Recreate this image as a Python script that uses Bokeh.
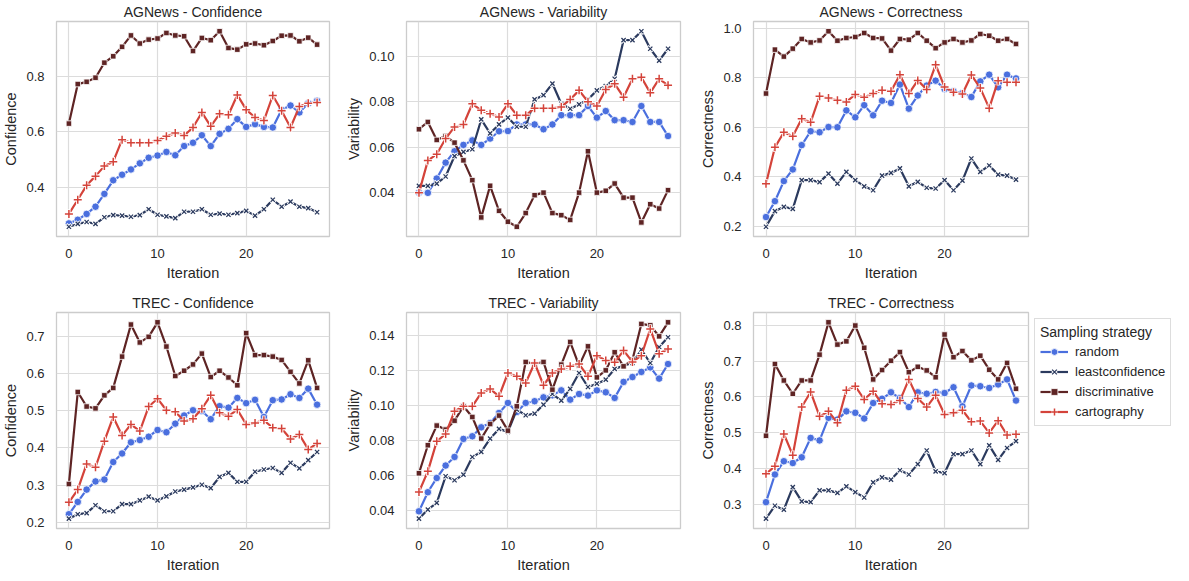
from bokeh.plotting import figure
from bokeh.layouts import column, row
from bokeh.models import Legend, LegendItem, FixedTicker, Range1d, PrintfTickFormatter
from bokeh.embed import file_html
from bokeh.resources import INLINE

iterations = list(range(29))
strategies = ["random", "leastconfidence", "discriminative", "cartography"]
colors = {"random": "#4a6fde", "leastconfidence": "#2b3a5e",
          "discriminative": "#5e2424", "cartography": "#d4433a"}

# AGNews - Confidence
ag_conf_random = [0.270, 0.283, 0.304, 0.330, 0.376, 0.425, 0.445, 0.464, 0.486, 0.506, 0.514, 0.527, 0.515, 0.548, 0.560,
                  0.587, 0.548, 0.592, 0.610, 0.645, 0.617, 0.627, 0.617, 0.615, 0.679, 0.694, 0.669, 0.702, 0.711]
ag_conf_least = [0.258, 0.268, 0.275, 0.268, 0.292, 0.300, 0.298, 0.294, 0.300, 0.321, 0.301, 0.295, 0.289, 0.312, 0.312,
                 0.321, 0.301, 0.305, 0.301, 0.307, 0.315, 0.298, 0.321, 0.355, 0.330, 0.348, 0.330, 0.325, 0.310]
ag_conf_disc = [0.629, 0.771, 0.779, 0.794, 0.848, 0.871, 0.905, 0.946, 0.917, 0.931, 0.935, 0.955, 0.946, 0.943, 0.890,
                0.937, 0.929, 0.961, 0.901, 0.895, 0.914, 0.917, 0.911, 0.926, 0.945, 0.946, 0.925, 0.938, 0.913]
ag_conf_carto = [0.304, 0.355, 0.407, 0.440, 0.476, 0.492, 0.571, 0.560, 0.560, 0.560, 0.568, 0.583, 0.595, 0.586, 0.615,
                 0.669, 0.619, 0.664, 0.661, 0.732, 0.679, 0.651, 0.640, 0.730, 0.675, 0.615, 0.690, 0.702, 0.705]

# AGNews - Variability
ag_var_random = [0.0401, 0.0400, 0.0463, 0.0533, 0.0583, 0.0611, 0.0631, 0.0611, 0.0639, 0.0671, 0.0672, 0.0701, 0.0701, 0.0701, 0.0680,
                 0.0701, 0.0742, 0.0742, 0.0742, 0.0782, 0.0731, 0.0760, 0.0720, 0.0720, 0.0712, 0.0782, 0.0712, 0.0712, 0.0650]
ag_var_least = [0.0431, 0.0431, 0.0441, 0.0472, 0.0562, 0.0580, 0.0592, 0.0723, 0.0662, 0.0701, 0.0731, 0.0691, 0.0691, 0.0811, 0.0830,
                0.0881, 0.0792, 0.0770, 0.0789, 0.0811, 0.0851, 0.0870, 0.0902, 0.1072, 0.1072, 0.1111, 0.1034, 0.0982, 0.1034]
ag_var_disc = [0.0680, 0.0712, 0.0633, 0.0650, 0.0621, 0.0543, 0.0456, 0.0292, 0.0431, 0.0321, 0.0273, 0.0251, 0.0311, 0.0390, 0.0401,
               0.0311, 0.0302, 0.0281, 0.0401, 0.0583, 0.0401, 0.0409, 0.0441, 0.0379, 0.0379, 0.0270, 0.0350, 0.0331, 0.0412]
ag_var_carto = [0.0400, 0.0542, 0.0570, 0.0639, 0.0690, 0.0701, 0.0792, 0.0763, 0.0748, 0.0734, 0.0792, 0.0742, 0.0742, 0.0772, 0.0772,
                0.0772, 0.0778, 0.0811, 0.0851, 0.0801, 0.0782, 0.0855, 0.0880, 0.0821, 0.0902, 0.0909, 0.0840, 0.0902, 0.0873]

# AGNews - Correctness
ag_corr_random = [0.238, 0.302, 0.383, 0.430, 0.528, 0.584, 0.580, 0.601, 0.600, 0.668, 0.640, 0.689, 0.648, 0.707, 0.698,
                  0.772, 0.675, 0.728, 0.768, 0.788, 0.754, 0.745, 0.738, 0.722, 0.785, 0.812, 0.761, 0.812, 0.797]
ag_corr_least = [0.199, 0.262, 0.279, 0.271, 0.387, 0.387, 0.379, 0.413, 0.373, 0.420, 0.387, 0.362, 0.346, 0.405, 0.416,
                 0.434, 0.362, 0.380, 0.356, 0.353, 0.387, 0.346, 0.385, 0.474, 0.420, 0.446, 0.409, 0.405, 0.389]
ag_corr_disc = [0.736, 0.913, 0.885, 0.917, 0.956, 0.942, 0.950, 0.987, 0.949, 0.960, 0.964, 0.980, 0.960, 0.958, 0.909,
                0.956, 0.953, 0.980, 0.949, 0.919, 0.942, 0.956, 0.942, 0.950, 0.976, 0.969, 0.949, 0.956, 0.936]
ag_corr_carto = [0.372, 0.519, 0.580, 0.564, 0.634, 0.620, 0.725, 0.718, 0.709, 0.702, 0.732, 0.721, 0.736, 0.749, 0.745,
                 0.812, 0.736, 0.789, 0.752, 0.852, 0.762, 0.741, 0.734, 0.811, 0.758, 0.677, 0.788, 0.781, 0.781]

# TREC - Confidence
tr_conf_random = [0.222, 0.255, 0.288, 0.310, 0.315, 0.362, 0.385, 0.415, 0.421, 0.430, 0.448, 0.442, 0.465, 0.487, 0.501,
                  0.499, 0.477, 0.512, 0.508, 0.534, 0.520, 0.529, 0.483, 0.528, 0.530, 0.544, 0.534, 0.559, 0.516]
tr_conf_least = [0.210, 0.222, 0.225, 0.246, 0.230, 0.230, 0.249, 0.249, 0.259, 0.269, 0.259, 0.270, 0.283, 0.288, 0.294,
                 0.301, 0.292, 0.322, 0.333, 0.309, 0.309, 0.336, 0.342, 0.346, 0.333, 0.360, 0.345, 0.367, 0.389]
tr_conf_disc = [0.303, 0.550, 0.511, 0.506, 0.541, 0.561, 0.645, 0.731, 0.683, 0.698, 0.737, 0.672, 0.593, 0.607, 0.624,
                0.653, 0.590, 0.607, 0.589, 0.568, 0.708, 0.649, 0.649, 0.645, 0.636, 0.604, 0.573, 0.635, 0.561]
tr_conf_carto = [0.254, 0.288, 0.357, 0.348, 0.418, 0.483, 0.433, 0.463, 0.445, 0.511, 0.532, 0.501, 0.497, 0.472, 0.478,
                 0.505, 0.541, 0.494, 0.485, 0.503, 0.463, 0.467, 0.474, 0.454, 0.452, 0.424, 0.436, 0.396, 0.412]

# TREC - Variability
tr_var_random = [0.0396, 0.0505, 0.0586, 0.0657, 0.0706, 0.0809, 0.0824, 0.0875, 0.0900, 0.0957, 0.1014, 0.0963, 0.1014, 0.1024, 0.1046,
                 0.1058, 0.1086, 0.1033, 0.1065, 0.1056, 0.1086, 0.1075, 0.1043, 0.1134, 0.1162, 0.1191, 0.1217, 0.1153, 0.1236]
tr_var_least = [0.0354, 0.0406, 0.0444, 0.0596, 0.0573, 0.0605, 0.0706, 0.0735, 0.0811, 0.0866, 0.0849, 0.0976, 0.0944, 0.0953, 0.1005,
                0.1065, 0.1027, 0.1094, 0.1185, 0.1105, 0.1124, 0.1147, 0.1208, 0.1227, 0.1242, 0.1318, 0.1242, 0.1333, 0.1389]
tr_var_disc = [0.0613, 0.0773, 0.0885, 0.0862, 0.0913, 0.0995, 0.0934, 0.0811, 0.0894, 0.0942, 0.0856, 0.0995, 0.1248, 0.1236, 0.1248,
               0.1090, 0.1233, 0.1362, 0.1227, 0.1337, 0.1160, 0.1200, 0.1303, 0.1223, 0.1261, 0.1465, 0.1457, 0.1394, 0.1474]
tr_var_carto = [0.0506, 0.0624, 0.0795, 0.0837, 0.0967, 0.0995, 0.0995, 0.1071, 0.1094, 0.1052, 0.1185, 0.1166, 0.1128, 0.1242, 0.1115,
                0.1185, 0.1208, 0.1223, 0.1236, 0.1166, 0.1284, 0.1256, 0.1246, 0.1313, 0.1248, 0.1284, 0.1436, 0.1295, 0.1322]

# TREC - Correctness
tr_corr_random = [0.307, 0.384, 0.421, 0.416, 0.432, 0.486, 0.479, 0.542, 0.537, 0.560, 0.556, 0.540, 0.583, 0.595, 0.613,
                  0.597, 0.572, 0.613, 0.609, 0.614, 0.611, 0.627, 0.574, 0.632, 0.630, 0.625, 0.635, 0.649, 0.590]
tr_corr_least = [0.261, 0.297, 0.286, 0.349, 0.309, 0.307, 0.340, 0.340, 0.333, 0.351, 0.335, 0.320, 0.362, 0.376, 0.370,
                 0.396, 0.384, 0.413, 0.451, 0.393, 0.388, 0.441, 0.441, 0.451, 0.413, 0.465, 0.425, 0.458, 0.477]
tr_corr_disc = [0.492, 0.692, 0.646, 0.609, 0.646, 0.646, 0.718, 0.808, 0.746, 0.755, 0.799, 0.737, 0.649, 0.675, 0.701,
                0.725, 0.669, 0.684, 0.674, 0.655, 0.774, 0.711, 0.728, 0.702, 0.715, 0.676, 0.649, 0.695, 0.623]
tr_corr_carto = [0.386, 0.407, 0.497, 0.438, 0.572, 0.614, 0.546, 0.560, 0.528, 0.619, 0.630, 0.593, 0.616, 0.581, 0.579,
                 0.590, 0.649, 0.596, 0.572, 0.605, 0.551, 0.556, 0.563, 0.531, 0.533, 0.500, 0.534, 0.494, 0.496]

x_ticks = [0, 10, 20]
ag_conf_ticks = [0.4, 0.6, 0.8]
ag_var_ticks = [0.04, 0.06, 0.08, 0.10]
ag_corr_ticks = [0.2, 0.4, 0.6, 0.8, 1.0]
tr_conf_ticks = [0.2, 0.3, 0.4, 0.5, 0.6, 0.7]
tr_var_ticks = [0.04, 0.06, 0.08, 0.10, 0.12, 0.14]
tr_corr_ticks = [0.3, 0.4, 0.5, 0.6, 0.7, 0.8]

FONT = "Liberation Sans"
TEXT = "#262626"
marker_style = {
    "random": dict(marker="circle", size=7.5, line_color="white", line_width=0.8),
    "leastconfidence": dict(marker="x", size=6, line_width=1.3),
    "discriminative": dict(marker="square", size=5.5, line_color="white", line_width=0.8),
    "cartography": dict(marker="cross", size=8, line_width=1.5),
}


def make_fig(title, ylabel, series, yticks, fmt, left, right, top, bottom, frame_w, frame_h, legend=False):
    vals = [v for s in series.values() for v in s]
    lo, hi = min(vals), max(vals)
    pad = (hi - lo) * 0.05
    p = figure(frame_width=frame_w, frame_height=frame_h, output_backend="svg", toolbar_location=None,
               x_range=Range1d(-1.4, 29.4), y_range=Range1d(lo - pad, hi + pad),
               min_border_left=left, min_border_right=right, min_border_top=top, min_border_bottom=bottom,
               title=title)
    p.title.align = "center"
    p.title.text_font = FONT
    p.title.text_font_size = "14px"
    p.title.text_font_style = "normal"
    p.title.text_color = TEXT
    p.title.standoff = 3
    p.outline_line_color = "#cccccc"
    p.outline_line_width = 1.3
    p.background_fill_color = "white"
    p.border_fill_color = "white"
    for ax in (p.xaxis[0], p.yaxis[0]):
        ax.axis_line_color = None
        ax.major_tick_line_color = None
        ax.minor_tick_line_color = None
        ax.major_label_text_font = FONT
        ax.major_label_text_font_size = "13px"
        ax.major_label_text_color = TEXT
        ax.axis_label_text_font = FONT
        ax.axis_label_text_font_size = "14.5px"
        ax.axis_label_text_font_style = "normal"
        ax.axis_label_text_color = TEXT
        ax.major_label_standoff = 6
        ax.axis_label_standoff = 4
    p.xaxis.ticker = FixedTicker(ticks=x_ticks)
    p.yaxis.ticker = FixedTicker(ticks=yticks)
    p.yaxis.formatter = PrintfTickFormatter(format=fmt)
    p.xaxis.axis_label = "Iteration"
    p.yaxis.axis_label = ylabel
    p.grid.grid_line_color = "#dcdcdc"
    p.grid.grid_line_width = 1.2
    items = []
    for name in strategies:
        c = colors[name]
        rends = [p.line(iterations, series[name], line_color=c, line_width=2.2)]
        ms = dict(marker_style[name])
        if ms["marker"] in ("x", "cross"):
            halo = dict(ms)
            halo["line_width"] = ms["line_width"] + 1.8
            halo["size"] = ms["size"] + 1.5
            rends.append(p.scatter(iterations, series[name], line_color="white", **{k: v for k, v in halo.items() if k != "line_color"}))
            ms["line_color"] = c
        rends.append(p.scatter(iterations, series[name], fill_color=c, **ms))
        items.append(LegendItem(label=name, renderers=rends))
    if legend:
        lg = Legend(items=items, title="Sampling strategy", location="top_left")
        lg.title_text_font = FONT
        lg.title_text_font_size = "14px"
        lg.title_text_font_style = "normal"
        lg.title_text_color = TEXT
        lg.title_standoff = 3
        lg.label_text_font = FONT
        lg.label_text_font_size = "13px"
        lg.label_text_color = TEXT
        lg.label_standoff = 7
        lg.glyph_width = 28
        lg.glyph_height = 17
        lg.label_height = 17
        lg.spacing = 3
        lg.padding = 5
        lg.margin = 6
        lg.border_line_color = "#bbbbbb"
        lg.border_line_width = 1.2
        lg.background_fill_color = "white"
        p.add_layout(lg, "right")
    return p


FH1 = 215
FH2 = 216
f1 = make_fig("AGNews - Confidence", "Confidence",
              dict(random=ag_conf_random, leastconfidence=ag_conf_least, discriminative=ag_conf_disc, cartography=ag_conf_carto),
              ag_conf_ticks, "%.1f", 51, 14, 17, 45, 273, FH1)
f2 = make_fig("AGNews - Variability", "Variability",
              dict(random=ag_var_random, leastconfidence=ag_var_least, discriminative=ag_var_disc, cartography=ag_var_carto),
              ag_var_ticks, "%.2f", 60, 13, 17, 45, 274, FH1)
f3 = make_fig("AGNews - Correctness", "Correctness",
              dict(random=ag_corr_random, leastconfidence=ag_corr_least, discriminative=ag_corr_disc, cartography=ag_corr_carto),
              ag_corr_ticks, "%.1f", 60, 10, 17, 45, 275, FH1)
f4 = make_fig("TREC - Confidence", "Confidence",
              dict(random=tr_conf_random, leastconfidence=tr_conf_least, discriminative=tr_conf_disc, cartography=tr_conf_carto),
              tr_conf_ticks, "%.1f", 51, 14, 29, 43, 273, FH2)
f5 = make_fig("TREC - Variability", "Variability",
              dict(random=tr_var_random, leastconfidence=tr_var_least, discriminative=tr_var_disc, cartography=tr_var_carto),
              tr_var_ticks, "%.2f", 60, 13, 29, 43, 274, FH2)
f6 = make_fig("TREC - Correctness", "Correctness",
              dict(random=tr_corr_random, leastconfidence=tr_corr_least, discriminative=tr_corr_disc, cartography=tr_corr_carto),
              tr_corr_ticks, "%.1f", 60, 0, 29, 43, 275, FH2, legend=True)

layout = column(row(f1, f2, f3, spacing=0), row(f4, f5, f6, spacing=0), spacing=0)

with open("out.html", "w") as fh:
    fh.write(file_html(layout, INLINE, "Sampling strategies"))
